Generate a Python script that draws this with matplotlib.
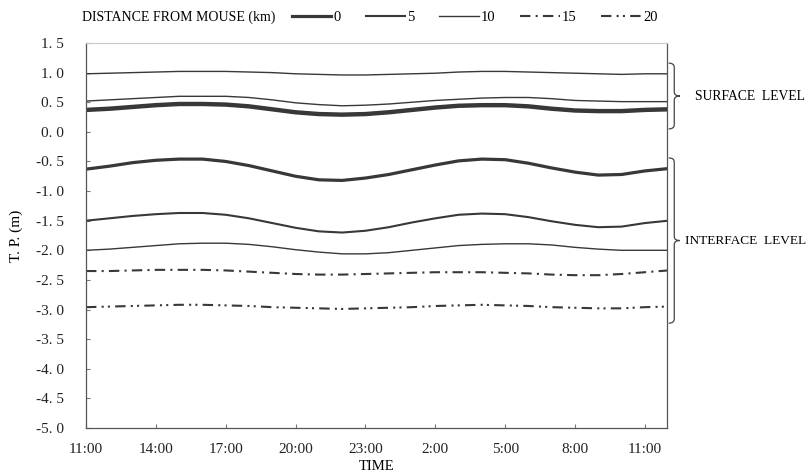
import numpy as np
import matplotlib
matplotlib.use("Agg")
import matplotlib.pyplot as plt
from matplotlib.path import Path
from matplotlib.patches import PathPatch
import matplotlib.transforms as mtransforms

plt.rcParams['font.family'] = ['Liberation Serif', 'DejaVu Serif']

# ---------------- data ----------------
hours = list(range(0, 26))  # hours after 11:00

surf_0 = [0.36, 0.38, 0.41, 0.44, 0.46, 0.46, 0.45, 0.42, 0.37, 0.32, 0.29, 0.28, 0.29,
          0.32, 0.36, 0.40, 0.43, 0.44, 0.44, 0.42, 0.38, 0.35, 0.34, 0.34, 0.36, 0.37]
surf_5 = [0.39, 0.41, 0.44, 0.47, 0.49, 0.49, 0.48, 0.45, 0.40, 0.35, 0.32, 0.31, 0.32,
          0.35, 0.39, 0.43, 0.46, 0.47, 0.47, 0.45, 0.41, 0.38, 0.37, 0.37, 0.39, 0.40]
surf_10 = [0.52, 0.54, 0.56, 0.58, 0.60, 0.60, 0.60, 0.58, 0.54, 0.49, 0.46, 0.44, 0.45,
           0.47, 0.50, 0.53, 0.55, 0.57, 0.58, 0.58, 0.56, 0.53, 0.52, 0.51, 0.51, 0.51]
surf_top = [0.98, 0.99, 1.00, 1.01, 1.02, 1.02, 1.02, 1.01, 1.00, 0.98, 0.97, 0.96, 0.96,
            0.97, 0.98, 0.99, 1.01, 1.02, 1.02, 1.01, 1.00, 0.99, 0.98, 0.97, 0.98, 0.98]

int_0 = [-0.63, -0.58, -0.52, -0.48, -0.46, -0.46, -0.50, -0.57, -0.66, -0.75, -0.81, -0.82, -0.78,
         -0.72, -0.64, -0.56, -0.49, -0.46, -0.47, -0.53, -0.61, -0.68, -0.73, -0.72, -0.66, -0.62]
int_5 = [-1.50, -1.46, -1.42, -1.39, -1.37, -1.37, -1.40, -1.46, -1.54, -1.62, -1.68, -1.70, -1.67,
         -1.61, -1.53, -1.46, -1.40, -1.38, -1.39, -1.44, -1.51, -1.57, -1.61, -1.60, -1.54, -1.50]
int_10 = [-2.00, -1.98, -1.95, -1.92, -1.89, -1.88, -1.88, -1.90, -1.94, -1.99, -2.03, -2.06, -2.06,
          -2.04, -2.00, -1.96, -1.92, -1.90, -1.89, -1.89, -1.91, -1.95, -1.98, -2.00, -2.00, -2.00]
int_15 = [-2.35, -2.35, -2.34, -2.33, -2.33, -2.33, -2.34, -2.36, -2.38, -2.40, -2.41, -2.41, -2.40,
          -2.39, -2.38, -2.37, -2.37, -2.37, -2.38, -2.39, -2.41, -2.42, -2.42, -2.40, -2.37, -2.34]
int_20 = [-2.96, -2.95, -2.94, -2.93, -2.92, -2.92, -2.93, -2.94, -2.96, -2.97, -2.98, -2.99, -2.98,
          -2.97, -2.96, -2.94, -2.93, -2.92, -2.93, -2.94, -2.96, -2.97, -2.98, -2.98, -2.96, -2.95]

x_ticks = [0, 3, 6, 9, 12, 15, 18, 21, 24]
x_labels = ['11:00', '14:00', '17:00', '20:00', '23:00', '2:00', '5:00', '8:00', '11:00']
y_ticks = [1.5, 1.0, 0.5, 0.0, -0.5, -1.0, -1.5, -2.0, -2.5, -3.0, -3.5, -4.0, -4.5, -5.0]
y_labels = ['1. 5', '1. 0', '0. 5', '0. 0', '-0. 5', '-1. 0', '-1. 5', '-2. 0', '-2. 5',
            '-3. 0', '-3. 5', '-4. 0', '-4. 5', '-5. 0']
legend_labels = ['0', '5', '10', '15', '20']

# ---------------- figure ----------------
W, H = 809, 475
fig = plt.figure(figsize=(W / 100, H / 100), dpi=100)
fig.patch.set_facecolor('white')
ax = fig.add_axes([86 / W, 1 - 428 / H, 581 / W, 385 / H])

c = '#383838'
dd15 = (0, (5, 2.5, 1, 2.5))
dd20 = (0, (5, 2.5, 1, 2, 1, 2.5))

l0, = ax.plot(hours, int_0, color=c, lw=2.3)
l5, = ax.plot(hours, int_5, color=c, lw=1.5)
l10, = ax.plot(hours, int_10, color=c, lw=1.0)
l15, = ax.plot(hours, int_15, color=c, lw=1.5, linestyle=dd15)
l20, = ax.plot(hours, int_20, color=c, lw=1.5, linestyle=dd20)

ax.plot(hours, surf_0, color=c, lw=2.3)
ax.plot(hours, surf_5, color=c, lw=1.5)
ax.plot(hours, surf_10, color=c, lw=1.0)
ax.plot(hours, surf_top, color=c, lw=1.0)

ax.set_xlim(0, 24.95)
ax.set_ylim(-5.0, 1.5)
ax.set_xticks(x_ticks)
ax.set_xticklabels(x_labels, fontsize=11, color='#222222')
ax.set_yticks(y_ticks)
ax.set_yticklabels(y_labels, fontsize=11, color='#222222')
ax.tick_params(axis='y', direction='in', length=3, width=0.8, pad=16, colors='#777777', labelcolor='#222222')
ax.tick_params(axis='x', direction='in', length=3, width=0.8, pad=11, colors='#777777', labelcolor='#222222')

for s in ['left', 'bottom', 'right']:
    ax.spines[s].set_color('#555555')
    ax.spines[s].set_linewidth(0.9)
ax.spines['top'].set_color('#c8c8c8')
ax.spines['top'].set_linewidth(0.8)

ax.set_xlabel('TIME', fontsize=10.5, labelpad=3)
ax.set_ylabel('T. P. (m)', fontsize=11, labelpad=9)

# legend
fig.text(82 / W, 1 - 17 / H, 'DISTANCE FROM MOUSE (km)', fontsize=10, va='center', ha='left')
fig.legend([l0, l5, l10, l15, l20], legend_labels, loc='center left',
           bbox_to_anchor=(292 / W, 1 - 17 / H), ncol=5, frameon=False,
           handlelength=2.7, handletextpad=0.15, columnspacing=1.7,
           borderaxespad=0, borderpad=0, prop={'size': 10.5})

# braces
trans = mtransforms.blended_transform_factory(ax.transAxes, ax.transData)


def brace(ytop, ybot, x0=1.003, w=0.019, r=0.07):
    ym = (ytop + ybot) / 2
    xm = x0 + w / 2
    verts = [(x0, ytop), (xm, ytop), (xm, ytop - r),
             (xm, ym + r),
             (xm, ym), (x0 + w, ym),
             (xm, ym), (xm, ym - r),
             (xm, ybot + r),
             (xm, ybot), (x0, ybot)]
    codes = [Path.MOVETO, Path.CURVE3, Path.CURVE3,
             Path.LINETO,
             Path.CURVE3, Path.CURVE3,
             Path.CURVE3, Path.CURVE3,
             Path.LINETO,
             Path.CURVE3, Path.CURVE3]
    p = PathPatch(Path(verts, codes), transform=trans, fill=False, lw=0.9,
                  edgecolor='#444444', clip_on=False)
    ax.add_patch(p)


brace(1.16, 0.05)
brace(-0.44, -3.23)
ax.text(1.048, 0.605, 'SURFACE  LEVEL', transform=trans, fontsize=9.8, va='center', ha='left')
ax.text(1.031, -1.835, 'INTERFACE  LEVEL', transform=trans, fontsize=9.6, va='center', ha='left')

fig.savefig('out.png', dpi=100, facecolor='white')
